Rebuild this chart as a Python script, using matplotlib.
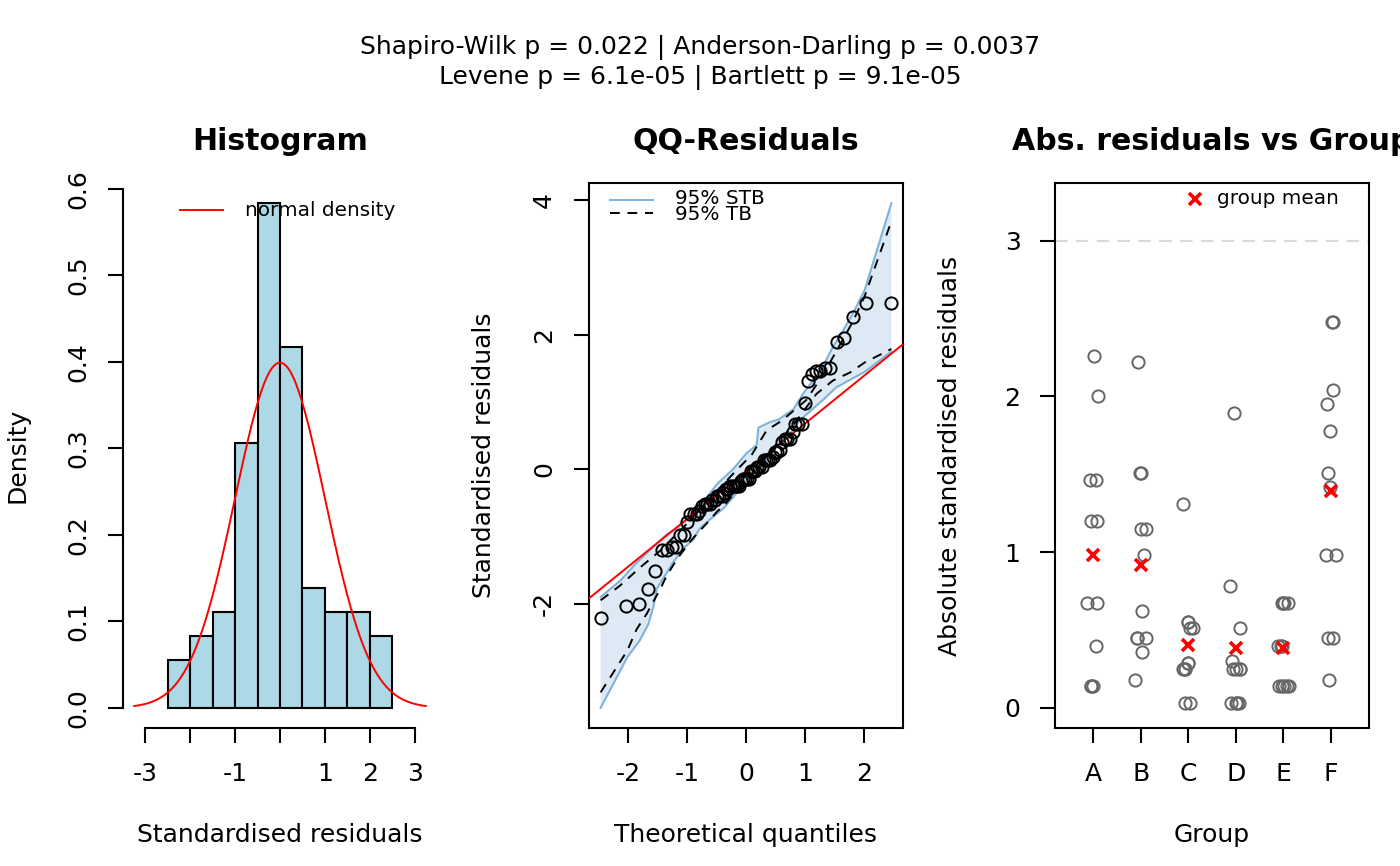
import numpy as np
import matplotlib
matplotlib.use("Agg")
import matplotlib.pyplot as plt
from statistics import NormalDist

# ---------------- data ----------------
title_line1 = "Shapiro-Wilk p = 0.022 | Anderson-Darling p = 0.0037"
title_line2 = "Levene p = 6.1e-05 | Bartlett p = 9.1e-05"

groups = ["A", "B", "C", "D", "E", "F"]
res_A = [2.26, -2.00, 1.46, 1.46, -1.20, -1.20, 0.67, -0.67, -0.40, -0.14, -0.14, -0.14]
res_B = [-2.22, 1.51, 1.51, -1.15, -1.15, 0.98, -0.62, 0.45, 0.45, 0.45, -0.36, 0.18]
res_C = [1.31, 0.55, -0.55, -0.51, -0.51, -0.29, 0.29, -0.25, -0.25, 0.25, -0.03, 0.03]
res_D = [1.89, -0.78, -0.51, -0.30, -0.25, -0.25, -0.25, 0.25, -0.03, -0.03, 0.03, 0.03]
res_E = [0.67, 0.67, -0.67, -0.67, 0.40, -0.40, -0.40, 0.14, 0.14, 0.14, 0.14, -0.14]
res_F = [2.48, 2.48, -2.04, 1.95, -1.78, -1.51, 1.42, -0.98, -0.98, -0.45, -0.45, -0.18]
group_res = [res_A, res_B, res_C, res_D, res_E, res_F]

hist_breaks = [-2.5, -2.0, -1.5, -1.0, -0.5, 0.0, 0.5, 1.0, 1.5, 2.0, 2.5]

# 95% simultaneous tolerance band (STB) and pointwise band (TB)
stb_lo_q = [-2.46, -2.01, -1.80, -1.65, -1.56, -1.51, -1.23, -1.06, -0.89, -0.78, -0.60, -0.38,
            -0.21, 0.03, 0.24, 0.40, 0.52, 0.80, 0.91, 1.08, 1.30, 1.53, 1.76, 2.01, 2.46]
stb_lo_r = [-3.55, -2.80, -2.55, -2.30, -2.02, -1.78, -1.38, -1.18, -1.04, -0.88, -0.74, -0.58,
            -0.41, -0.14, 0.06, 0.18, 0.33, 0.58, 0.73, 0.86, 1.03, 1.22, 1.33, 1.45, 1.75]
stb_hi_q = [-2.46, -2.13, -1.85, -1.60, -1.34, -1.15, -0.95, -0.72, -0.49, -0.21, 0.01, 0.18,
            0.21, 0.40, 0.55, 0.80, 0.97, 1.14, 1.30, 1.47, 1.64, 1.81, 2.01, 2.46]
stb_hi_r = [-1.90, -1.66, -1.39, -1.18, -0.97, -0.86, -0.71, -0.48, -0.22, 0.01, 0.24, 0.36,
            0.62, 0.70, 0.74, 0.89, 1.13, 1.33, 1.53, 1.82, 2.06, 2.32, 2.67, 3.96]
tb_lo_q = [-2.46, -2.01, -1.85, -1.68, -1.45, -1.34, -1.17, -1.00, -0.89, -0.66, -0.49, -0.33,
           -0.16, 0.01, 0.24, 0.50, 0.80, 1.02, 1.19, 1.47, 1.76, 2.01, 2.46]
tb_lo_r = [-3.32, -2.70, -2.38, -2.15, -1.78, -1.58, -1.34, -1.14, -1.02, -0.80, -0.63, -0.50,
           -0.31, -0.18, 0.11, 0.36, 0.66, 0.92, 1.12, 1.32, 1.44, 1.59, 1.79]
tb_hi_q = [-2.46, -2.13, -1.79, -1.45, -1.00, -0.61, -0.21, 0.10, 0.35, 0.60, 1.02, 1.30,
           1.53, 1.81, 2.01, 2.46]
tb_hi_r = [-1.95, -1.73, -1.46, -1.21, -0.81, -0.43, -0.06, 0.22, 0.58, 0.72, 1.03, 1.40,
           1.76, 2.20, 2.58, 3.69]

# ---------------- figure ----------------
W, H = 1400, 866
plt.rcParams['font.family'] = ['DejaVu Sans']
plt.rcParams['axes.unicode_minus'] = False
fig = plt.figure(figsize=(W / 100, H / 100), dpi=100)

BASE = 18
TITLE = 21.6
LEG = 14.4
TICKLEN = 10.8
LW_AX = 1.5


def panel_rect(left_px):
    return [left_px / W, (H - 728) / H, 314 / W, 545 / H]


def style_ticks(ax):
    ax.tick_params(direction='out', length=TICKLEN, width=LW_AX, labelsize=BASE, pad=10)
    ax.tick_params(axis='x', pad=14)


def set_labels(ax, xlabel, ylabel):
    ax.set_xlabel(xlabel, fontsize=BASE, va='center')
    ax.xaxis.set_label_coords(0.5, -107 / 545)
    ax.set_ylabel(ylabel, fontsize=BASE, va='center')
    ax.yaxis.set_label_coords(-105 / 314, 0.5)


def rotate_ylabels(ax):
    for lab in ax.get_yticklabels():
        lab.set_rotation(90)
        lab.set_va('center')


res_all = np.concatenate([np.asarray(r, float) for r in group_res])
n = len(res_all)

# ---------- Panel 1: histogram ----------
ax1 = fig.add_axes(panel_rect(123))
dens, _ = np.histogram(res_all, bins=hist_breaks, density=True)
ax1.hist(res_all, bins=hist_breaks, density=True, color='#ADD8E6',
         edgecolor='black', linewidth=1.5)
xs = np.linspace(-3.24, 3.24, 400)
ax1.plot(xs, np.exp(-xs ** 2 / 2) / np.sqrt(2 * np.pi), color='red', lw=1.4)
dmax = dens.max()
ax1.set_xlim(-3.49, 3.49)
ax1.set_ylim(-0.04 * dmax, 1.04 * dmax)
for s in ['top', 'right']:
    ax1.spines[s].set_visible(False)
for s in ['left', 'bottom']:
    ax1.spines[s].set_linewidth(LW_AX)
ax1.spines['left'].set_bounds(0, 0.6)
ax1.spines['bottom'].set_bounds(-3, 3)
ax1.set_xticks([-3, -2, -1, 0, 1, 2, 3])
ax1.set_xticklabels(['-3', '', '-1', '', '1', '2', '3'])
ax1.set_yticks([0, 0.1, 0.2, 0.3, 0.4, 0.5, 0.6])
ax1.set_yticklabels(['0.0', '0.1', '0.2', '0.3', '0.4', '0.5', '0.6'])
style_ticks(ax1)
ax1.tick_params(axis='y', pad=13)
rotate_ylabels(ax1)
ax1.set_title('Histogram', fontsize=TITLE, fontweight='bold', pad=24)
set_labels(ax1, 'Standardised residuals', 'Density')
ax1.plot([0.182, 0.318], [0.950, 0.950], color='red', lw=1.4, transform=ax1.transAxes)
ax1.text(0.389, 0.950, 'normal density', fontsize=LEG, va='center', ha='left',
         transform=ax1.transAxes)

# ---------- Panel 2: QQ plot ----------
ax2 = fig.add_axes(panel_rect(589))
nd = NormalDist()
theo = np.array([nd.inv_cdf((i - 0.5) / n) for i in range(1, n + 1)])
samp = np.sort(res_all)
poly_q = np.concatenate([stb_lo_q, stb_hi_q[::-1]])
poly_r = np.concatenate([stb_lo_r, stb_hi_r[::-1]])
ax2.fill(poly_q, poly_r, color='#DDE9F4', lw=0, zorder=1)
ax2.plot(stb_lo_q, stb_lo_r, color='#80B3DA', lw=1.5, zorder=2)
ax2.plot(stb_hi_q, stb_hi_r, color='#80B3DA', lw=1.5, zorder=2)
ax2.plot(tb_lo_q, tb_lo_r, color='black', lw=1.4, dashes=(5, 4), zorder=3)
ax2.plot(tb_hi_q, tb_hi_r, color='black', lw=1.4, dashes=(5, 4), zorder=3)
y1, y3 = np.quantile(samp, [0.25, 0.75])
x1, x3 = nd.inv_cdf(0.25), nd.inv_cdf(0.75)
slope = (y3 - y1) / (x3 - x1)
icpt = y1 - slope * x1
ax2.axline((0, icpt), slope=slope, color='red', lw=1.4, zorder=4)
ax2.plot(theo, samp, 'o', mfc='none', mec='black', ms=8.8, mew=1.4, zorder=5)
qpad = 0.04 * (theo.max() - theo.min())
ax2.set_xlim(theo.min() - qpad, theo.max() + qpad)
rlo = min(min(stb_lo_r), samp.min())
rhi = max(max(stb_hi_r), samp.max())
rpad = 0.04 * (rhi - rlo)
ax2.set_ylim(rlo - rpad, rhi + rpad)
ax2.set_xticks([-2, -1, 0, 1, 2])
ax2.set_yticks([-2, 0, 2, 4])
for s in ax2.spines.values():
    s.set_linewidth(LW_AX)
style_ticks(ax2)
ax2.tick_params(axis='y', pad=13)
rotate_ylabels(ax2)
ax2.set_title('QQ-Residuals', fontsize=TITLE, fontweight='bold', pad=24)
set_labels(ax2, 'Theoretical quantiles', 'Standardised residuals')
ax2.plot([0.067, 0.204], [0.969, 0.969], color='#80B3DA', lw=1.5, transform=ax2.transAxes)
ax2.plot([0.067, 0.204], [0.945, 0.945], color='black', lw=1.4, dashes=(5, 4),
         transform=ax2.transAxes)
ax2.text(0.274, 0.971, '95% STB', fontsize=LEG, va='center', ha='left', transform=ax2.transAxes)
ax2.text(0.274, 0.943, '95% TB', fontsize=LEG, va='center', ha='left', transform=ax2.transAxes)

# ---------- Panel 3: abs residuals vs group ----------
ax3 = fig.add_axes(panel_rect(1055))
rng = np.random.default_rng(7)
ax3.axhline(3, color='#D9D9D9', lw=1.5, dashes=(6, 4), zorder=1)
for gi, r in enumerate(group_res, start=1):
    a = np.abs(np.asarray(r, float))
    jit = rng.uniform(-0.12, 0.12, size=len(a))
    ax3.plot(gi + jit, a, 'o', mfc='none', mec='#666666', ms=8.8, mew=1.4, zorder=3)
    ax3.plot([gi], [a.mean()], 'x', color='red', ms=9, mew=2.6, zorder=4)
ax3.set_xlim(0.2, 6.8)
ax3.set_ylim(-0.04 * 3.24, 1.04 * 3.24)
ax3.set_xticks(range(1, len(groups) + 1))
ax3.set_xticklabels(groups)
ax3.set_yticks([0, 1, 2, 3])
for s in ax3.spines.values():
    s.set_linewidth(LW_AX)
style_ticks(ax3)
ax3.tick_params(axis='y', pad=14)
ax3.set_title('Abs. residuals vs Group', fontsize=TITLE, fontweight='bold', pad=24)
set_labels(ax3, 'Group', 'Absolute standardised residuals')
ax3.plot([0.446], [0.971], 'x', color='red', ms=9, mew=2.6, transform=ax3.transAxes)
ax3.text(0.516, 0.971, 'group mean', fontsize=LEG, va='center', ha='left',
         transform=ax3.transAxes)

# ---------- overall title ----------
fig.text(0.5, 1 - 47 / H, title_line1, ha='center', va='center', fontsize=BASE)
fig.text(0.5, 1 - 77 / H, title_line2, ha='center', va='center', fontsize=BASE)

fig.savefig('out.png', dpi=100)
